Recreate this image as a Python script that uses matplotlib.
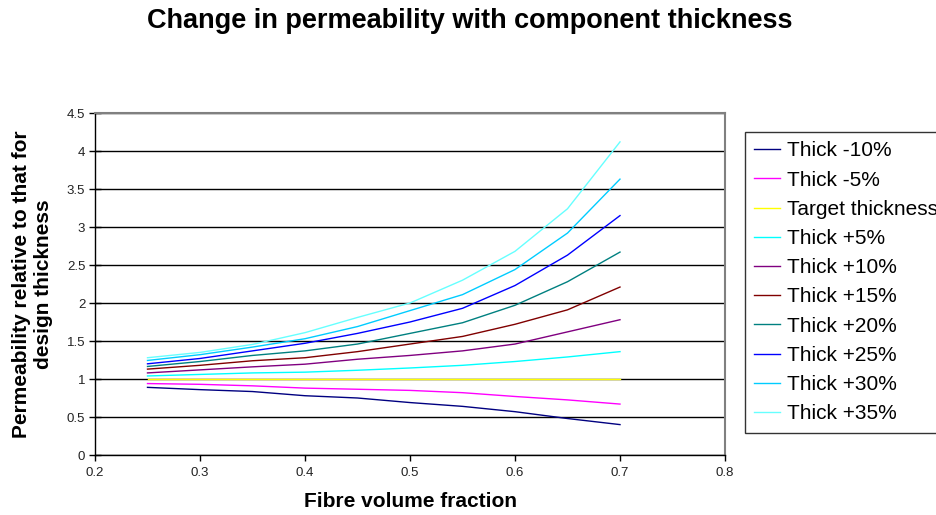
import matplotlib
matplotlib.use("Agg")
import matplotlib.pyplot as plt
from matplotlib.ticker import FixedLocator, FuncFormatter

plt.rcParams['font.family'] = ['Liberation Sans', 'DejaVu Sans']

fibre_vf = [0.25, 0.30, 0.35, 0.40, 0.45, 0.50, 0.55, 0.60, 0.65, 0.70]

series_labels = ["Thick -10%", "Thick -5%", "Target thickness", "Thick +5%",
                 "Thick +10%", "Thick +15%", "Thick +20%", "Thick +25%",
                 "Thick +30%", "Thick +35%"]

thick_m10 = [0.89, 0.86, 0.835, 0.78, 0.75, 0.69, 0.64, 0.57, 0.48, 0.40]
thick_m5 = [0.94, 0.93, 0.91, 0.88, 0.865, 0.85, 0.82, 0.77, 0.725, 0.67]
target = [1.0, 1.0, 1.0, 1.0, 1.0, 1.0, 1.0, 1.0, 1.0, 1.0]
thick_p5 = [1.04, 1.06, 1.08, 1.09, 1.115, 1.145, 1.18, 1.23, 1.29, 1.36]
thick_p10 = [1.08, 1.12, 1.16, 1.195, 1.26, 1.31, 1.37, 1.46, 1.62, 1.78]
thick_p15 = [1.13, 1.18, 1.24, 1.28, 1.36, 1.46, 1.56, 1.72, 1.91, 2.21]
thick_p20 = [1.165, 1.23, 1.31, 1.37, 1.46, 1.60, 1.74, 1.97, 2.28, 2.67]
thick_p25 = [1.20, 1.27, 1.37, 1.47, 1.60, 1.75, 1.93, 2.23, 2.63, 3.15]
thick_p30 = [1.244, 1.32, 1.42, 1.53, 1.69, 1.90, 2.11, 2.44, 2.92, 3.63]
thick_p35 = [1.28, 1.35, 1.455, 1.61, 1.81, 2.00, 2.30, 2.68, 3.24, 4.12]

series_values = [thick_m10, thick_m5, target, thick_p5, thick_p10, thick_p15,
                 thick_p20, thick_p25, thick_p30, thick_p35]
series_colors = ["#000080", "#FF00FF", "#FFFF00", "#00FFFF", "#800080",
                 "#800000", "#008080", "#0000FF", "#00CCFF", "#66FFFF"]

x_ticks = [0.2, 0.3, 0.4, 0.5, 0.6, 0.7, 0.8]
y_ticks = [0, 0.5, 1, 1.5, 2, 2.5, 3, 3.5, 4, 4.5]

fig = plt.figure(figsize=(9.36, 5.15), dpi=100)
ax = fig.add_axes([95/936, 1-455/515, 630/936, 342/515])

for vals, lab, col in zip(series_values, series_labels, series_colors):
    ax.plot(fibre_vf, vals, color=col, lw=1.0, label=lab)

ax.set_xlim(0.2, 0.8)
ax.set_ylim(0, 4.5)
ax.xaxis.set_major_locator(FixedLocator(x_ticks))
ax.yaxis.set_major_locator(FixedLocator(y_ticks))
ax.xaxis.set_major_formatter(FuncFormatter(lambda v, p: f"{v:g}"))
ax.yaxis.set_major_formatter(FuncFormatter(lambda v, p: f"{v:g}"))
ax.tick_params(axis='x', direction='out', length=4, width=1, labelsize=9.5,
               colors='black', labelcolor='#222222', pad=5)
ax.tick_params(axis='y', direction='inout', length=8, width=1, labelsize=9.5,
               colors='black', labelcolor='#222222', pad=3)
ax.grid(axis='y', color='black', lw=1.0)
ax.set_axisbelow(True)
for s in ['left', 'bottom']:
    ax.spines[s].set_color('black')
    ax.spines[s].set_linewidth(1.0)
for s in ['top', 'right']:
    ax.spines[s].set_color('#808080')
    ax.spines[s].set_linewidth(1.5)

ax.set_xlabel("Fibre volume fraction", fontsize=15, fontweight='bold')
ax.xaxis.set_label_coords(0.5, -0.108)
ax.set_ylabel("Permeability relative to that for\ndesign thickness", fontsize=15,
              fontweight='bold')
ax.yaxis.set_label_coords(-0.066, 0.5)

fig.text(0.502, 1-21/515, "Change in permeability with component thickness",
         fontsize=19.5, fontweight='bold', ha='center', va='center')

leg = fig.legend(loc='upper left', bbox_to_anchor=(745/936, 1-132/515),
                 fontsize=15, frameon=True, fancybox=False, edgecolor='black',
                 handlelength=1.25, handletextpad=0.3, labelspacing=0.49,
                 borderpad=0.45, borderaxespad=0)
leg.get_frame().set_linewidth(1.0)

fig.savefig("out.png", dpi=100)
